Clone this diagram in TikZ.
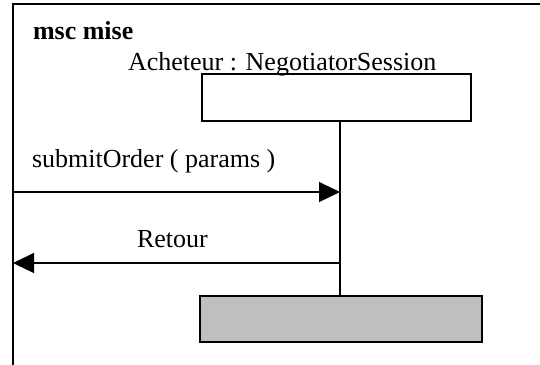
\documentclass[tikz,border=0pt]{standalone}
\usepackage{fontspec}
\setmainfont{Liberation Serif}
\usetikzlibrary{arrows.meta}
\begin{document}
\begin{tikzpicture}[x=0.5bp,y=-0.5bp,
  every node/.style={font=\fontsize{13bp}{15bp}\selectfont, inner sep=0pt, outer sep=0pt},
  frameline/.style={line width=0.75bp},
  instbox/.style={draw, line width=0.8bp, minimum width=134.5bp, minimum height=23.5bp},
  stopbox/.style={draw, line width=0.8bp, fill=black!25, minimum width=141bp, minimum height=23bp},
  lifeline/.style={line width=0.6bp},
  msgarrow/.style={line width=0.55bp, -{Triangle[length=10.5bp,width=10bp]}}]
  \useasboundingbox (0,0) rectangle (540,364);
  \clip (0,0) rectangle (540,364);

  % diagram frame (continues past the right and bottom edges)
  \draw[frameline] (13,400) -- (13,4) -- (600,4);
  \node[anchor=base west, font=\fontsize{13bp}{15bp}\selectfont\bfseries] (title) at (33,39) {msc mise};

  % instance head, name and end
  \node[anchor=base west] (iname) at (128,70) {Acheteur : NegotiatorSession};
  \node[instbox] (head) at (336.5,97.5) {};
  \node[stopbox] (stop) at (341,319) {};

  % lifeline
  \coordinate (lx) at (340,0);
  \draw[lifeline] (head.south -| lx) -- (stop.north -| lx);

  % messages
  \coordinate (in1) at (13,192);
  \coordinate (out1) at (13,263);
  \draw[msgarrow] (in1) -- (in1 -| lx);
  \node[anchor=base west] (m1) at (32,167) {submitOrder ( params )};
  \draw[msgarrow] (out1 -| lx) -- (out1);
  \node[anchor=base west] (m2) at (137,247) {Retour};
\end{tikzpicture}
\end{document}
